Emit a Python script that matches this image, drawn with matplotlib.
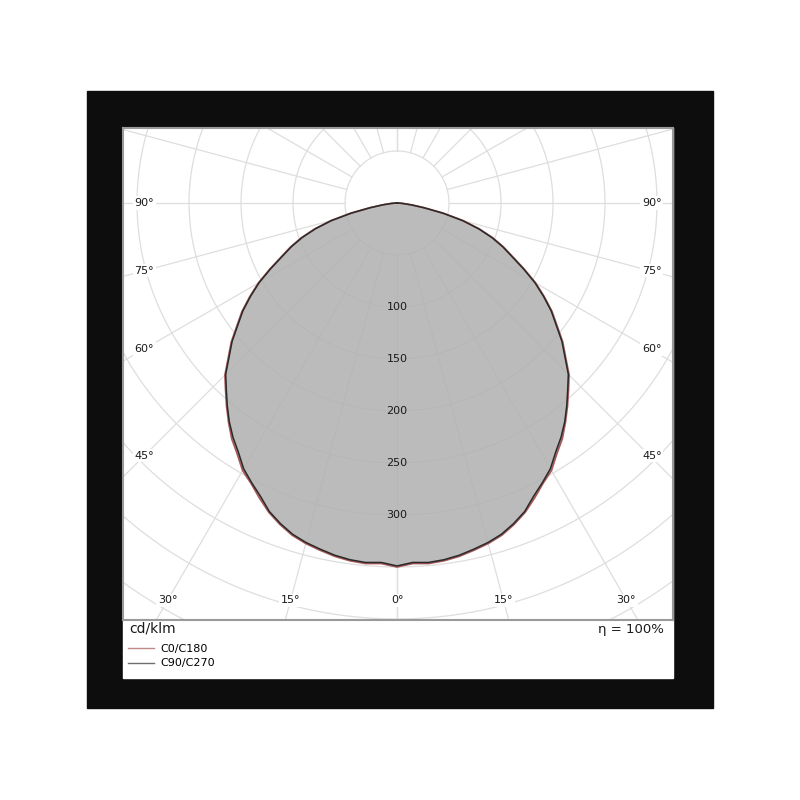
import matplotlib.pyplot as plt
import numpy as np
from matplotlib.patches import Rectangle
from matplotlib.lines import Line2D

# Luminous intensity (cd/klm) against gamma angle
gamma = [0, 2.5, 5, 7.5, 10, 12.5, 15, 17.5, 20, 22.5, 25, 27.5, 30, 32.5, 35, 37.5,
         40, 42.5, 45, 47.5, 50, 52.5, 55, 57.5, 60, 62.5, 65, 67.5, 70, 72.5, 75,
         77.5, 80, 82.5, 85, 87.5, 90]
i_c90_c270 = [349, 346, 347, 346, 344, 341, 338, 334, 328, 321, 311, 303, 295, 284, 275, 265,
              254, 243, 233, 219, 207, 193, 181, 167, 153, 137, 122, 110, 97, 82, 65,
              45, 26, 14, 6, 2, 0]
i_c0_c180 = [350, 347, 348, 347, 345, 342, 339, 335, 329, 322, 313, 304, 297, 286, 277, 266,
             255, 244, 234, 220, 208, 194, 182, 168, 154, 138, 123, 111, 98, 83, 66,
             46, 27, 14, 6, 2, 0]

ring_values = [100, 150, 200, 250, 300]
side_angles = [90, 75, 60, 45]
bottom_angles = [0, 15, 30]
eta_text = "η = 100%"
unit_text = "cd/klm"

W = 800.0
grid_col = '#dedede'

fig = plt.figure(figsize=(8, 8), dpi=100)
fig.patch.set_facecolor('white')
# black frame and white panel
fig.patches.append(Rectangle((87 / W, 1 - 708 / W), 626 / W, 617 / W,
                             transform=fig.transFigure, color='#0d0d0d', zorder=-3))
fig.patches.append(Rectangle((123 / W, 1 - 678 / W), 550 / W, 550 / W,
                             transform=fig.transFigure, color='white', zorder=-2))

ax = fig.add_axes([123 / W, 1 - 620 / W, 550 / W, 492 / W])
ax.set_zorder(2)
ax.set_xlim(-263.5, 265.4)
ax.set_ylim(401, -72.1)
ax.set_xticks([])
ax.set_yticks([])
for s in ax.spines.values():
    s.set_color('#9a9a9a')
    s.set_linewidth(1.5)

# polar grid: circles every 50 cd/klm, rays every 15 degrees
t = np.linspace(0, 2 * np.pi, 721)
for R in range(50, 550, 50):
    ax.plot(R * np.sin(t), R * np.cos(t), color=grid_col, lw=0.9, zorder=1)
for g in range(0, 181, 15):
    a = np.radians(g)
    for sgn in (-1, 1):
        ax.plot([sgn * 50 * np.sin(a), sgn * 700 * np.sin(a)],
                [50 * np.cos(a), 700 * np.cos(a)], color=grid_col, lw=0.9, zorder=1)


def closed_curve(vals):
    g = np.radians(np.array(gamma))
    v = np.array(vals, dtype=float)
    ang = np.concatenate([-g[::-1], g[1:]])
    rr = np.concatenate([v[::-1], v[1:]])
    return rr * np.sin(ang), rr * np.cos(ang)


x0, y0 = closed_curve(i_c0_c180)
x9, y9 = closed_curve(i_c90_c270)
ax.fill(x0, y0, color='#b0b0b0', alpha=0.85, lw=0, zorder=2)
ax.plot(x0, y0, color='#a85a5a', lw=1.3, zorder=3)
ax.plot(x9, y9, color='#2a2a2a', lw=1.1, zorder=4)

# radial value labels along 0 deg
for v in ring_values:
    ax.text(0, v, str(v), fontsize=8, ha='center', va='center', color='#1a1a1a', zorder=5)

# angle labels at the box edges
lab_box = dict(boxstyle='square,pad=0.15', facecolor='white', edgecolor='none')
for g in side_angles:
    yy = 243 / np.tan(np.radians(g)) if g != 90 else 0
    ax.text(-243, yy, f"{g}°", fontsize=8, ha='center', va='center', color='#1a1a1a',
            bbox=lab_box, zorder=5)
    ax.text(245, yy, f"{g}°", fontsize=8, ha='center', va='center', color='#1a1a1a',
            bbox=lab_box, zorder=5)
for g in bottom_angles:
    xx = 382 * np.tan(np.radians(g))
    for sgn in ((1,) if g == 0 else (-1, 1)):
        ax.text(sgn * xx, 382, f"{g}°", fontsize=8, ha='center', va='center',
                color='#1a1a1a', bbox=lab_box, zorder=5)

fig.text(129 / W, 1 - 629 / W, unit_text, fontsize=10, ha='left', va='center', color='#1a1a1a')
fig.text(664 / W, 1 - 629 / W, eta_text, fontsize=9.5, ha='right', va='center', color='#1a1a1a')

handles = [Line2D([], [], color='#c08a8a', lw=1.0), Line2D([], [], color='#6e6e6e', lw=1.0)]
fig.legend(handles, ['C0/C180', 'C90/C270'], loc='upper left',
           bbox_to_anchor=(128 / W, 1 - 644 / W), frameon=False, fontsize=8,
           handlelength=2.3, handletextpad=0.65, labelspacing=0.4,
           borderpad=0, borderaxespad=0)

fig.savefig('out.png', dpi=100, facecolor='white')
